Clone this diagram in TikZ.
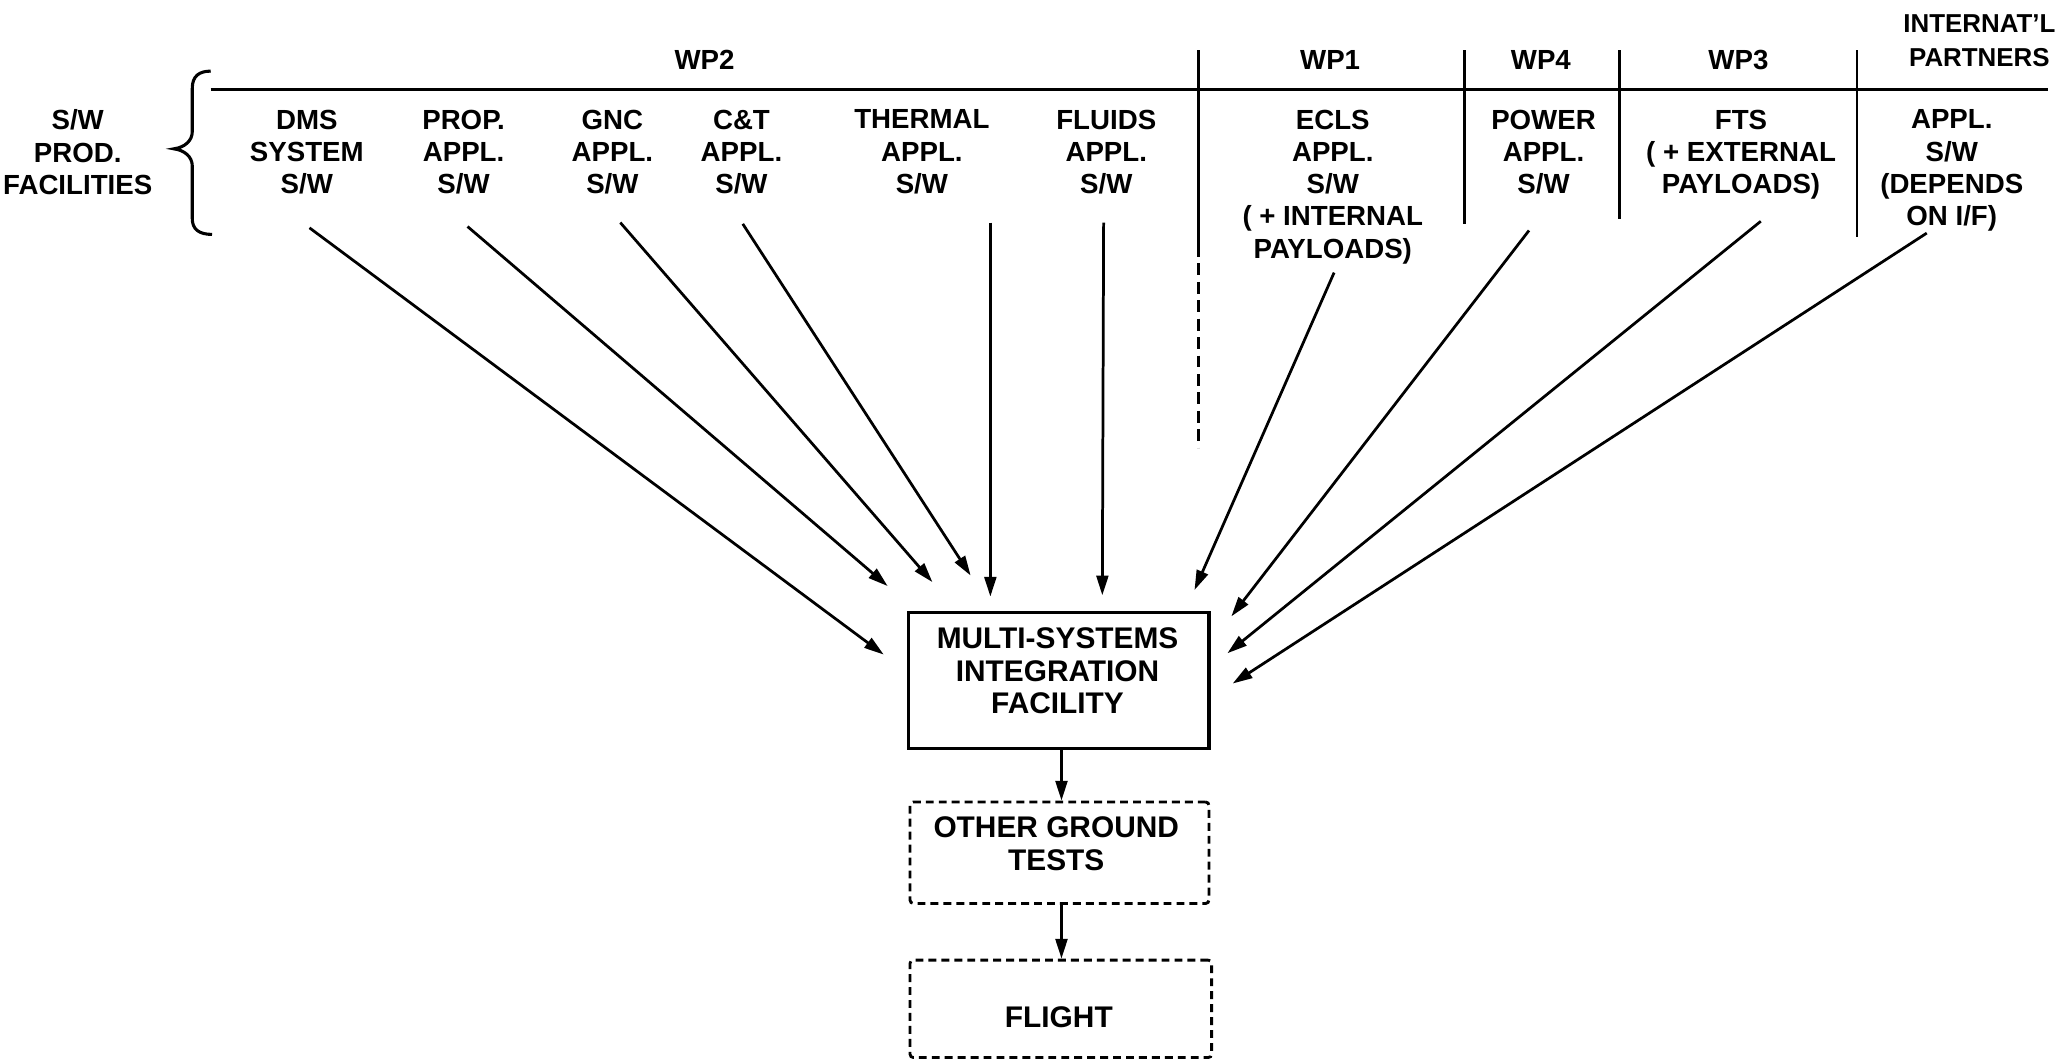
\documentclass[tikz,border=0pt]{standalone}
\usepackage{fontspec}
\setmainfont{Liberation Sans}
\usetikzlibrary{arrows.meta}
\begin{document}
\begin{tikzpicture}[x=0.6pt,y=-0.6pt,
  lbl/.style={inner sep=0pt, align=center, anchor=north, font=\fontsize{12.6}{14.7}\selectfont\bfseries},
  boxlbl/.style={lbl, font=\fontsize{13.6}{14.8}\selectfont\bfseries},
  con/.style={line width=1.25pt, -{Triangle[length=9pt,width=5.4pt]}},
  rule/.style={line width=1.3pt},
  solidbox/.style={draw, line width=1.4pt, inner sep=0pt},
  dashbox/.style={draw, line width=1.3pt, inner sep=0pt, rounded corners=1.5pt, dash pattern=on 3.6pt off 2.3pt}
]
\useasboundingbox (0,0) rectangle (1568,805);

% header labels
\node[lbl] (wp2) at (535,38) {WP2};
\node[lbl] (wp1) at (1010,38) {WP1};
\node[lbl] (wp4) at (1170,38) {WP4};
\node[lbl] (wp3) at (1320,38) {WP3};
\node[lbl, font=\fontsize{11.8}{15.5}\selectfont\bfseries] (intl) at (1503,11) {INTERNAT'L\\PARTNERS};

% header rules
\draw[rule] (160,68) -- (1555,68);
\draw[rule] (910,38) -- (910,195);
\draw[rule, dash pattern=on 5.4pt off 3pt] (910,200) -- (910,340);
\draw[rule] (1112,38) -- (1112,170);
\draw[rule] (1230,38) -- (1230,166);
\draw[rule] (1410,38) -- (1410,180);

% left label and brace
\node[lbl] (prod) at (59,83) {S/W\\PROD.\\FACILITIES};
\draw[line width=1.4pt] (160,54) .. controls (151,54) and (146,58) .. (146,67)
  -- (146,100) .. controls (146,107) and (140,112) .. (132,113)
  .. controls (140,114) and (146,119) .. (146,126)
  -- (146,166) .. controls (146,174) and (151,178) .. (161,178);

% column labels
\node[lbl] (dms) at (233,83) {DMS\\SYSTEM\\S/W};
\node[lbl] (prop) at (352,83) {PROP.\\APPL.\\S/W};
\node[lbl] (gnc) at (465,83) {GNC\\APPL.\\S/W};
\node[lbl] (ct) at (563,83) {C\&T\\APPL.\\S/W};
\node[lbl] (thermal) at (700,83) {THERMAL\\APPL.\\S/W};
\node[lbl] (fluids) at (840,83) {FLUIDS\\APPL.\\S/W};
\node[lbl] (ecls) at (1012,83) {ECLS\\APPL.\\S/W\\( + INTERNAL\\PAYLOADS)};
\node[lbl] (power) at (1172,83) {POWER\\APPL.\\S/W};
\node[lbl] (fts) at (1322,83) {FTS\\( + EXTERNAL\\PAYLOADS)};
\node[lbl] (appl) at (1482,83) {APPL.\\S/W\\(DEPENDS\\ON I/F)};

% flow boxes
\node[solidbox, minimum width=136.8pt, minimum height=61.8pt] (msif) at (804,516.5) {};
\node[boxlbl] (msiftext) at (803,476.5) {MULTI-SYSTEMS\\INTEGRATION\\FACILITY};
\node[dashbox, minimum width=136.2pt, minimum height=46.2pt] (ogt) at (804.5,647.5) {};
\node[boxlbl] (ogttext) at (802,620) {OTHER GROUND\\TESTS};
\node[dashbox, minimum width=137.4pt, minimum height=44.4pt] (flight) at (805.5,766) {};
\node[boxlbl] (flighttext) at (804,764) {FLIGHT};

% arrow end points
\coordinate (s1) at (235,173);  \coordinate (e1) at (671,497);
\coordinate (s2) at (355,172);  \coordinate (e2) at (674,445);
\coordinate (s3) at (471,169);  \coordinate (e3) at (708,442);
\coordinate (s4) at (564,170);  \coordinate (e4) at (737,437);
\coordinate (s5) at (752,169);  \coordinate (e5) at (752,453);
\coordinate (s6) at (838,169);  \coordinate (e6) at (837,452);
\coordinate (s7) at (1013,207); \coordinate (e7) at (907,448);
\coordinate (s8) at (1161,175); \coordinate (e8) at (935,468);
\coordinate (s9) at (1337,168); \coordinate (e9) at (932,496);
\coordinate (s10) at (1463,177); \coordinate (e10) at (936,519);

\foreach \i in {1,...,10} \draw[con] (s\i) -- (e\i);

\draw[con] (msif.south -| 806,0) -- (ogt.north -| 806,0);
\draw[con] (ogt.south -| 806,0) -- (flight.north -| 806,0);
\end{tikzpicture}
\end{document}
